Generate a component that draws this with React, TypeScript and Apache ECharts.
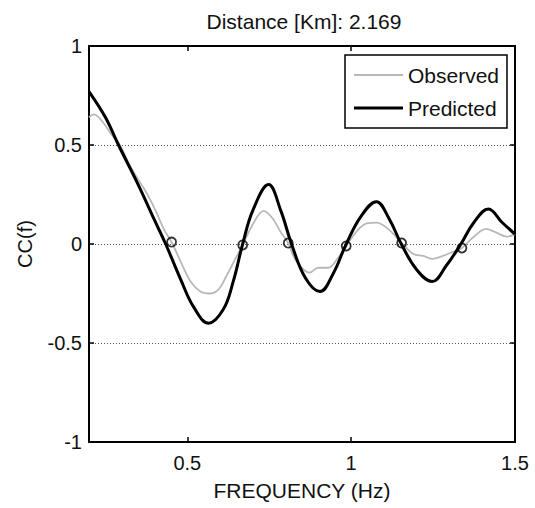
import React, { useEffect, useRef } from "react";
import * as echarts from "echarts";

const titleText = "Distance [Km]: 2.169";
const xLabel = "FREQUENCY (Hz)";
const yLabel = "CC(f)";
const xTicks = [0.5, 1, 1.5];
const legendNames = ["Observed", "Predicted"];

const predFreq = [0.2, 0.25, 0.29, 0.35, 0.4, 0.434, 0.48, 0.52, 0.565, 0.61, 0.64, 0.669, 0.7, 0.748, 0.785, 0.818, 0.86, 0.905, 0.945, 0.985, 1.03, 1.077, 1.115, 1.153, 1.2, 1.247, 1.29, 1.335, 1.375, 1.419, 1.46, 1.5];
const predVals = [0.77, 0.64, 0.5, 0.3, 0.12, 0.0, -0.18, -0.32, -0.4, -0.33, -0.19, 0.0, 0.17, 0.3, 0.17, 0.0, -0.17, -0.24, -0.15, 0.0, 0.14, 0.214, 0.13, 0.0, -0.13, -0.19, -0.11, 0.0, 0.11, 0.177, 0.11, 0.05];

const obsFreq = [0.2, 0.215, 0.24, 0.27, 0.294, 0.33, 0.36, 0.375, 0.4, 0.43, 0.452, 0.48, 0.51, 0.54, 0.568, 0.595, 0.62, 0.645, 0.669, 0.7, 0.733, 0.76, 0.785, 0.808, 0.83, 0.873, 0.9, 0.93, 0.96, 0.985, 1.02, 1.05, 1.077, 1.11, 1.154, 1.19, 1.22, 1.247, 1.28, 1.31, 1.338, 1.37, 1.412, 1.44, 1.475, 1.5];
const obsVals = [0.64, 0.655, 0.62, 0.55, 0.5, 0.38, 0.3, 0.26, 0.18, 0.07, 0.01, -0.09, -0.19, -0.24, -0.25, -0.23, -0.16, -0.08, -0.005, 0.1, 0.167, 0.13, 0.06, 0.005, -0.08, -0.145, -0.12, -0.12, -0.07, -0.01, 0.07, 0.105, 0.108, 0.08, 0.005, -0.05, -0.06, -0.075, -0.06, -0.04, -0.02, 0.03, 0.076, 0.06, 0.037, 0.05];

const crossFreq = [0.452, 0.669, 0.808, 0.985, 1.154, 1.338];
const crossVals = [0.01, -0.005, 0.005, -0.01, 0.005, -0.02];

const FONT = "'Liberation Sans', Arial, Helvetica, sans-serif";
const OBS_COLOR = "#b8b8b8";
const PRED_COLOR = "#000";

export default function App() {
  const ref = useRef<HTMLDivElement>(null);
  useEffect(() => {
    if (!ref.current) return;
    const chart = echarts.init(ref.current, undefined, { renderer: "svg" });
    const pred = predFreq.map((f, i) => [f, predVals[i]]);
    const obs = obsFreq.map((f, i) => [f, obsVals[i]]);
    const cross = crossFreq.map((f, i) => [f, crossVals[i]]);
    const axisLine = { show: true, onZero: false, lineStyle: { color: "#000", width: 2 } };
    const tick = { show: true, inside: true, length: 5, lineStyle: { color: "#000", width: 1.5 } };
    chart.setOption({
      animation: false,
      backgroundColor: "#fff",
      textStyle: { fontFamily: FONT },
      title: {
        text: titleText,
        left: 299,
        textAlign: "center",
        top: 6,
        textStyle: { fontSize: 21, fontWeight: "normal", color: "#111", fontFamily: FONT },
      },
      grid: { left: 89, right: 20, top: 46, bottom: 66, containLabel: false },
      xAxis: [
        {
          type: "value",
          position: "bottom",
          min: 0.2,
          max: 1.5,
          axisLine,
          axisTick: { ...tick, customValues: xTicks },
          axisLabel: { customValues: xTicks, fontSize: 20, color: "#111", margin: 11, formatter: (v: number) => String(v) },
          splitLine: { show: false },
          name: xLabel,
          nameLocation: "middle",
          nameGap: 38,
          nameTextStyle: { fontSize: 21, color: "#111" },
        },
        {
          type: "value",
          position: "top",
          min: 0.2,
          max: 1.5,
          axisLine,
          axisTick: { ...tick, customValues: xTicks },
          axisLabel: { show: false },
          splitLine: { show: false },
        },
      ],
      yAxis: [
        {
          type: "value",
          position: "left",
          min: -1,
          max: 1,
          interval: 0.5,
          axisLine,
          axisTick: tick,
          axisLabel: { fontSize: 20, color: "#111", margin: 7 },
          splitLine: { show: true, lineStyle: { color: "#555", width: 1, type: [1, 2] } },
          name: yLabel,
          nameLocation: "middle",
          nameRotate: 90,
          nameGap: 54,
          nameTextStyle: { fontSize: 20, color: "#111" },
        },
        {
          type: "value",
          position: "right",
          min: -1,
          max: 1,
          interval: 0.5,
          axisLine,
          axisTick: tick,
          axisLabel: { show: false },
          splitLine: { show: false },
        },
      ],
      graphic: [
        {
          type: "group",
          z: 100,
          children: [
            { type: "rect", shape: { x: 345, y: 55, width: 162, height: 73 }, style: { fill: "#fff", stroke: "#000", lineWidth: 1.5 } },
            { type: "line", shape: { x1: 354, y1: 75, x2: 403, y2: 75 }, style: { stroke: OBS_COLOR, lineWidth: 2 } },
            { type: "line", shape: { x1: 354, y1: 108, x2: 403, y2: 108 }, style: { stroke: PRED_COLOR, lineWidth: 3 } },
            { type: "text", x: 408, y: 75, style: { text: legendNames[0], fontSize: 21, fill: "#111", fontFamily: FONT, verticalAlign: "middle", align: "left" } },
            { type: "text", x: 408, y: 108, style: { text: legendNames[1], fontSize: 21, fill: "#111", fontFamily: FONT, verticalAlign: "middle", align: "left" } },
          ],
        },
      ],
      series: [
        {
          name: legendNames[0],
          type: "line",
          data: obs,
          symbol: "none",
          smooth: 0.35,
          lineStyle: { color: OBS_COLOR, width: 1.8 },
          z: 2,
        },
        {
          name: legendNames[1],
          type: "line",
          data: pred,
          symbol: "none",
          smooth: 0.4,
          lineStyle: { color: PRED_COLOR, width: 3 },
          z: 3,
        },
        {
          name: "crossings",
          type: "scatter",
          data: cross,
          symbol: "circle",
          symbolSize: 9,
          itemStyle: { color: "rgba(0,0,0,0)", borderColor: "#000", borderWidth: 1.8 },
          z: 4,
        },
      ],
    });
    return () => chart.dispose();
  }, []);
  return <div ref={ref} style={{ width: 535, height: 508, position: "absolute", left: 0, top: 0 }} />;
}
